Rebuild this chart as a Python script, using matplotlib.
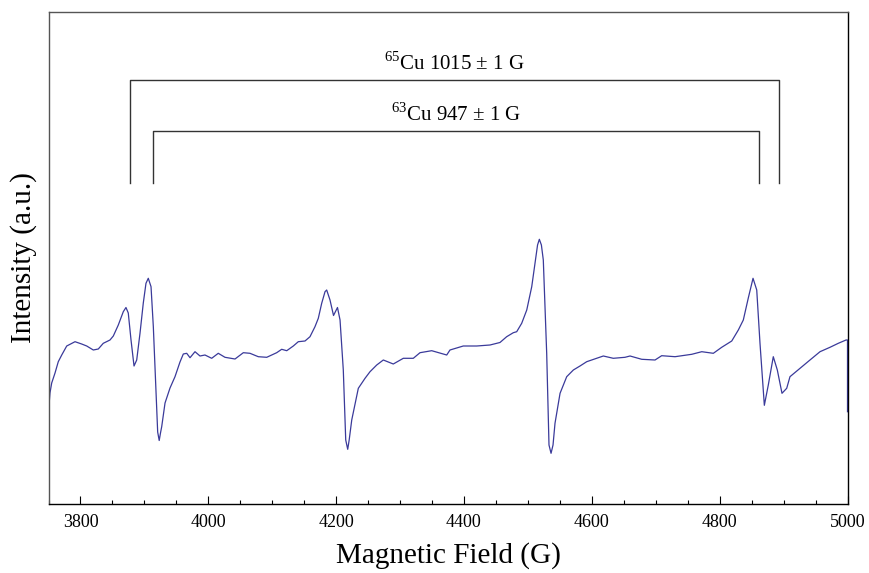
import matplotlib
matplotlib.use("Agg")
import matplotlib.pyplot as plt
from matplotlib.ticker import MultipleLocator

plt.rcParams['font.family'] = ['Liberation Serif', 'DejaVu Serif']
plt.rcParams['mathtext.fontset'] = 'custom'
plt.rcParams['mathtext.rm'] = 'Liberation Serif'

field = [3750.0, 3752.3, 3755.0, 3760.2, 3765.3, 3770.7, 3778.5, 3791.5, 3801.9, 3809.8,
         3820.1, 3827.9, 3835.7, 3846.2, 3851.4, 3859.2, 3867.0, 3871.2, 3874.8, 3879.1,
         3883.8, 3888.0, 3893.2, 3898.3, 3902.5, 3906.1, 3910.4, 3914.0, 3918.2, 3920.8,
         3923.2, 3925.2, 3927.1, 3932.3, 3940.1, 3947.9, 3955.7, 3960.9, 3966.2, 3971.4,
         3979.2, 3987.0, 3994.8, 4005.3, 4015.6, 4026.1, 4041.8, 4054.8, 4065.2, 4078.2,
         4091.4, 4107.0, 4114.8, 4122.7, 4133.0, 4140.8, 4151.3, 4159.1, 4166.9, 4172.1,
         4177.4, 4182.6, 4185.2, 4190.4, 4195.9, 4202.1, 4206.1, 4211.2, 4215.0, 4218.1,
         4220.4, 4224.4, 4234.7, 4245.2, 4253.0, 4263.5, 4273.8, 4289.4, 4305.1, 4320.7,
         4331.2, 4349.5, 4373.0, 4378.1, 4398.9, 4419.9, 4440.7, 4456.3, 4466.8, 4477.2,
         4482.5, 4490.3, 4498.2, 4506.0, 4511.2, 4515.1, 4517.9, 4521.1, 4524.1, 4529.4,
         4533.0, 4536.2, 4539.3, 4542.4, 4550.3, 4560.7, 4571.1, 4581.5, 4592.0, 4607.7,
         4618.0, 4633.6, 4651.9, 4659.8, 4678.1, 4698.9, 4709.3, 4730.2, 4756.3, 4772.0,
         4790.1, 4803.2, 4818.9, 4829.2, 4837.0, 4844.8, 4852.2, 4858.0, 4863.1, 4869.9,
         4876.1, 4883.9, 4890.2, 4897.5, 4904.9, 4910.0, 4925.7, 4941.3, 4957.0, 4972.6,
         4985.6, 4997.7, 5000.0, 5000.0]

intensity = [-61.7, -43.0, -33.0, -23.0, -11.7, -5.0, 4.0, 8.3, 6.0, 4.0,
             0.0, 1.0, 6.7, 10.0, 14.0, 25.0, 38.3, 42.5, 37.0, 10.0,
             -16.0, -10.0, 17.0, 47.0, 66.7, 71.7, 63.3, 23.3, -43.3, -82.0,
             -90.5, -83.0, -76.7, -53.0, -38.0, -26.7, -12.0, -4.0, -3.3, -7.7,
             -1.7, -6.0, -5.0, -8.3, -3.3, -7.3, -9.0, -2.7, -3.3, -6.7,
             -7.3, -2.7, 0.7, -0.7, 4.0, 8.3, 9.0, 13.3, 23.3, 31.7,
             46.7, 58.3, 60.0, 50.0, 34.5, 42.5, 30.0, -20.0, -90.0, -99.3,
             -90.0, -70.0, -38.3, -28.3, -21.7, -15.0, -10.0, -14.0, -8.3, -8.3,
             -2.7, -0.7, -5.0, 0.0, 4.0, 4.0, 5.0, 7.5, 13.3, 17.3,
             18.3, 26.7, 40.0, 63.3, 86.7, 105.0, 110.7, 105.0, 90.0, -3.3,
             -95.0, -103.3, -95.0, -73.3, -43.3, -26.7, -20.0, -16.0, -11.7, -8.3,
             -6.0, -8.3, -7.3, -6.0, -9.3, -10.0, -5.7, -6.7, -4.3, -1.7,
             -3.3, 2.7, 9.0, 20.0, 30.0, 52.0, 71.7, 60.0, 6.7, -55.3,
             -35.0, -6.7, -20.0, -43.3, -38.3, -26.7, -18.3, -10.0, -1.7, 2.7,
             6.7, 10.0, 10.0, -61.7]

xticks = [3800, 4000, 4200, 4400, 4600, 4800, 5000]

cu65_label = r"$^{65}$Cu 1015 ± 1 G"
cu65_bounds = [3877.5, 4892.5]
cu63_label = r"$^{63}$Cu 947 ± 1 G"
cu63_bounds = [3914.0, 4861.0]

fig = plt.figure(figsize=(8.69, 5.73), dpi=100)
ax = fig.add_axes([48.5 / 869, 69 / 573, 799 / 869, 492 / 573])

ax.plot(field, intensity, color='#3a3a9a', lw=0.9)

# brackets
top65, top63, base = 270, 219, 167
ax.plot([cu65_bounds[0], cu65_bounds[0], cu65_bounds[1], cu65_bounds[1]],
        [base, top65, top65, base], color='#333333', lw=1.0)
ax.plot([cu63_bounds[0], cu63_bounds[0], cu63_bounds[1], cu63_bounds[1]],
        [base, top63, top63, base], color='#333333', lw=1.0)
ax.text(sum(cu65_bounds) / 2, top65 + 5, cu65_label, ha='center', va='bottom', fontsize=15)
ax.text(sum(cu63_bounds) / 2, top63 + 5, cu63_label, ha='center', va='bottom', fontsize=15)

ax.set_xlim(3750, 5000)
ax.set_ylim(-154, 338)
ax.set_xticks(xticks)
ax.xaxis.set_minor_locator(MultipleLocator(50))
ax.set_yticks([])
ax.tick_params(axis='x', which='major', direction='in', length=6, width=0.8, labelsize=13, pad=7)
ax.tick_params(axis='x', which='minor', direction='in', length=3, width=0.8)
for s in ['top', 'left']:
    ax.spines[s].set_color('#555555')
for s in ax.spines.values():
    s.set_linewidth(1.0)

ax.set_xlabel('Magnetic Field (G)', fontsize=21, labelpad=8)
ax.set_ylabel('Intensity (a.u.)', fontsize=21, labelpad=8)

fig.savefig('out.png', dpi=100)
